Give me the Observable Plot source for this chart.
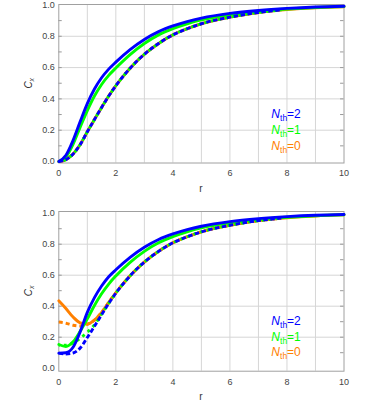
<!DOCTYPE html>
<html><head><meta charset="utf-8">
<script src="https://cdn.jsdelivr.net/npm/d3@7"></script>
<script src="https://cdn.jsdelivr.net/npm/@observablehq/plot@0.6"></script>
<style>
body{margin:0;background:#fff;}
#chart{width:374px;height:402px;position:relative;overflow:hidden;}
svg{display:block;}
</style></head><body><div id="chart"></div>
<script>
// ---- data ----
const rGrid = [0,0.25,0.5,0.75,1,1.25,1.5,1.75,2,2.5,3,3.5,4,4.5,5,6,7,8,9,10];
const rDash = [0,0.25,0.5,0.75,1,1.25,1.5,1.75,2,2.5,3,3.5,4,4.5,5,6,7,7.8];

// top panel
const topNth2 = [0,0.04,0.135,0.255,0.37,0.463,0.535,0.59,0.635,0.715,0.78,0.83,0.866,0.894,0.916,0.946,0.965,0.978,0.987,0.992];
const topNth1 = [0,0.03,0.11,0.22,0.325,0.418,0.492,0.55,0.597,0.683,0.754,0.809,0.849,0.88,0.905,0.938,0.96,0.974,0.984,0.99];
const topNth0 = [0,0.012,0.048,0.108,0.19,0.268,0.345,0.418,0.484,0.596,0.685,0.754,0.809,0.848,0.88,0.922,0.952,0.97,0.982,0.989];
const topDash2 = [0,0.012,0.048,0.108,0.19,0.268,0.345,0.418,0.484,0.596,0.685,0.754,0.809,0.848,0.88,0.922,0.952,0.968];
const topDash1 = [0,0.012,0.048,0.108,0.19,0.268,0.345,0.418,0.484,0.596,0.685,0.754,0.809,0.848,0.88,0.922,0.952,0.968];
const topDash0 = [0,0.012,0.048,0.108,0.19,0.268,0.345,0.418,0.484,0.596,0.685,0.754,0.809,0.848,0.88,0.922,0.952,0.968];

// bottom panel
const botNth2 = [0.097,0.1,0.135,0.235,0.36,0.455,0.53,0.59,0.635,0.715,0.78,0.83,0.866,0.894,0.916,0.946,0.965,0.978,0.987,0.992];
const botNth1 = [0.153,0.14,0.17,0.238,0.318,0.405,0.48,0.543,0.595,0.683,0.754,0.809,0.849,0.88,0.905,0.938,0.96,0.974,0.984,0.99];
const botNth0 = [0.435,0.385,0.33,0.293,0.285,0.31,0.36,0.425,0.486,0.596,0.685,0.754,0.809,0.848,0.88,0.922,0.952,0.97,0.982,0.989];
const botDash2 = [0.097,0.092,0.098,0.13,0.198,0.27,0.345,0.418,0.484,0.596,0.685,0.754,0.809,0.848,0.88,0.922,0.952,0.968];
const botDash1 = [0.148,0.148,0.163,0.193,0.232,0.28,0.348,0.418,0.484,0.596,0.685,0.754,0.809,0.848,0.88,0.922,0.952,0.968];
const botDash0 = [0.298,0.29,0.277,0.272,0.283,0.31,0.36,0.425,0.486,0.596,0.685,0.754,0.809,0.848,0.88,0.922,0.952,0.968];

const xTicks = [0,2,4,6,8,10];
const xGrid = [1,2,3,4,5,6,7,8,9];
const yTicks = [0,0.2,0.4,0.6,0.8,1.0];
const yGrid = [0.2,0.4,0.6,0.8];
const yMinor = [0.1,0.2,0.3,0.4,0.5,0.6,0.7,0.8,0.9];
const legendNth = ["2","1","0"];
const colors = {"2":"#0000ff","1":"#00ff00","0":"#ff8000"};

const FONT = "'Liberation Sans', Arial, sans-serif";
const W = 374, ML = 58.3, MR = 30.5;

function toRows(rs, cs){ return rs.map((r,i)=>({r, c: cs[i]})); }

function panel(opts){
  const {height, marginTop, marginBottom, yDomain, solid, dashed} = opts;
  const lw = 2.9;
  const dashStyle = {strokeWidth: lw, strokeLinecap: "butt", curve: "monotone-x"};
  const marks = [
    Plot.gridX(xGrid, {stroke:"#d6d6d6", strokeOpacity:1}),
    Plot.gridY(yGrid, {stroke:"#d6d6d6", strokeOpacity:1}),
    Plot.ruleY(yMinor, {x1: 0, x2: 0.12, stroke:"#999"}),
    Plot.ruleY(yMinor, {x1: 9.88, x2: 10, stroke:"#999"}),
    Plot.frame({stroke:"#a0a0a0"}),
    Plot.axisX({ticks: xTicks, tickSize: 0, tickPadding: 7, fontSize: 9, label: null, fill:"#444"}),
    Plot.axisY({ticks: yTicks, tickSize: 0, tickPadding: 4, fontSize: 9, label: null, tickFormat: d3.format(".1f"), fill:"#444"}),
    Plot.line(toRows(rGrid, solid["0"]), {x:"r", y:"c", stroke: colors["0"], strokeWidth: lw, curve:"monotone-x"}),
    Plot.line(toRows(rDash, dashed["0"]), {x:"r", y:"c", stroke: colors["0"], strokeDasharray:"4,3", ...dashStyle}),
    Plot.line(toRows(rDash, dashed["1"]), {x:"r", y:"c", stroke: colors["1"], strokeDasharray:"3,4", strokeDashoffset: 2, ...dashStyle}),
    Plot.line(toRows(rGrid, solid["1"]), {x:"r", y:"c", stroke: colors["1"], strokeWidth: lw, curve:"monotone-x"}),
    Plot.line(toRows(rGrid, solid["2"]), {x:"r", y:"c", stroke: colors["2"], strokeWidth: lw, curve:"monotone-x"}),
    Plot.line(toRows(rDash, dashed["2"]), {x:"r", y:"c", stroke: colors["2"], strokeDasharray:"4.5,2.5", ...dashStyle}),
  ];
  const p = Plot.plot({
    width: W, height, marginLeft: ML, marginRight: MR, marginTop, marginBottom,
    style: {fontFamily: FONT, background: "#fff", overflow: "visible"},
    x: {domain: [0, 10]},
    y: {domain: yDomain},
    marks
  });
  const svg = d3.select(p);
  const xs = p.scale("x"), ys = p.scale("y");
  // axis titles
  const cx = (ML + W - MR) / 2;
  const frameBottom = height - marginBottom;
  svg.append("text").attr("x", cx).attr("y", frameBottom + 29)
    .attr("text-anchor","middle").attr("font-size", 10).attr("fill","#333")
    .attr("font-family", FONT).text("r");
  const cy = (marginTop + frameBottom) / 2;
  const yl = svg.append("text").attr("transform", `translate(${ML - 26},${cy}) rotate(-90)`)
    .attr("text-anchor","middle").attr("font-size", 10).attr("fill","#333").attr("font-family", FONT);
  yl.append("tspan").attr("font-style","italic").text("C");
  yl.append("tspan").attr("font-size", 7).attr("font-style","italic").attr("dy", 2).text("x");
  // legend
  legendNth.forEach((n, i) => {
    const t = svg.append("text").attr("x", xs.apply(7.47)).attr("y", ys.apply(0.3 - i * 0.1))
      .attr("text-anchor", "start")
      .attr("dy", "0.35em").attr("font-size", 12).attr("fill", colors[n]).attr("font-family", FONT);
    t.append("tspan").attr("font-style","italic").text("N");
    t.append("tspan").attr("font-size", 8.5).attr("dy", 3).text("th");
    t.append("tspan").attr("dy", -3).text("=" + n);
  });
  return p;
}

const chart = document.getElementById("chart");
chart.appendChild(panel({
  height: 200, marginTop: 4, marginBottom: 37.5, yDomain: [-0.0096, 1.003],
  solid: {"2": topNth2, "1": topNth1, "0": topNth0},
  dashed: {"2": topDash2, "1": topDash1, "0": topDash0}
}));
chart.appendChild(panel({
  height: 202, marginTop: 11, marginBottom: 31.3, yDomain: [-0.0194, 1.011],
  solid: {"2": botNth2, "1": botNth1, "0": botNth0},
  dashed: {"2": botDash2, "1": botDash1, "0": botDash0}
}));
</script></body></html>
